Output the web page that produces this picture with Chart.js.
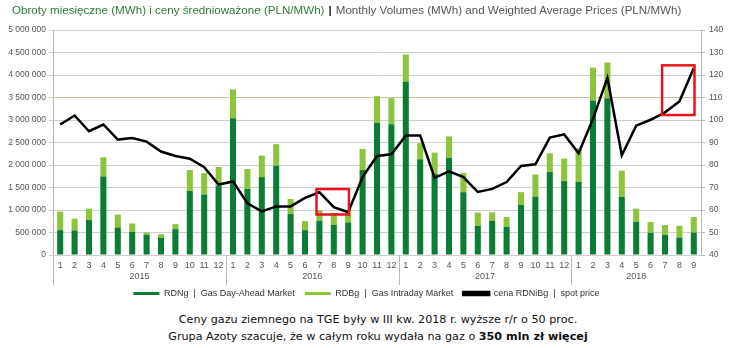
<!DOCTYPE html>
<html>
<head>
<meta charset="utf-8">
<script src="https://cdn.jsdelivr.net/npm/chart.js@4"></script>
<style>
  body { margin: 0; background: #fff; }
  #wrap { position: relative; width: 733px; height: 348px; overflow: hidden; }
  #title { position: absolute; left: 12px; top: 3px; font: 11.6px "Liberation Sans", Arial, sans-serif; white-space: nowrap; }
  #title .pl { color: #2d7a3a; }
  #title .sep { color: #222; font-weight: bold; padding: 0 4px; }
  #title .en { color: #555; }
  #note { position: absolute; left: 0; width: 756px; top: 311px; text-align: center; font: 11.2px "DejaVu Sans", Verdana, sans-serif; line-height: 17px; color: #111; }
  canvas { position: absolute; left: 0; top: 0; }
</style>
</head>
<body>
<div id="wrap">
  <canvas id="myChart" width="733" height="308"></canvas>
  <div id="title"><span class="pl">Obroty miesięczne (MWh) i ceny średnioważone (PLN/MWh)</span><span class="sep">|</span><span class="en">Monthly Volumes (MWh) and Weighted Average Prices (PLN/MWh)</span></div>
  <div id="note">Ceny gazu ziemnego na TGE były w III kw. 2018 r. wyższe r/r o 50 proc.<br>Grupa Azoty szacuje, że w całym roku wydała na gaz o <b>350 mln zł więcej</b></div>
</div>
<script>
'use strict';

// months 2015-01 .. 2018-09
let months = [
  '1','2','3','4','5','6','7','8','9','10','11','12',
  '1','2','3','4','5','6','7','8','9','10','11','12',
  '1','2','3','4','5','6','7','8','9','10','11','12',
  '1','2','3','4','5','6','7','8','9'
];
let years = ['2015', '2016', '2017', '2018'];
let monthsPerYear = [12, 12, 12, 9];

// RDNg - day-ahead market volume (MWh)
let rdng = [
  552000, 545000, 776000, 1746000, 612000, 515000, 448000, 381000, 575000, 1425000, 1343000, 1530000,
  3037000, 1470000, 1731000, 1985000, 910000, 552000, 761000, 672000, 724000, 1888000, 2933000, 2903000,
  3858000, 2127000, 1806000, 2157000, 1396000, 649000, 761000, 627000, 1112000, 1299000, 1843000, 1642000,
  1627000, 3433000, 3485000, 1291000, 739000, 493000, 448000, 388000, 500000
];
// RDBg - intraday market volume (MWh)
let rdbg = [
  411000, 261000, 254000, 426000, 284000, 186000, 52000, 82000, 112000, 463000, 478000, 425000,
  642000, 440000, 478000, 478000, 336000, 202000, 231000, 261000, 283000, 470000, 597000, 582000,
  597000, 358000, 470000, 477000, 425000, 291000, 187000, 216000, 284000, 492000, 418000, 500000,
  739000, 731000, 791000, 582000, 291000, 238000, 216000, 261000, 343000
];
// cena RDNiBg - spot price (PLN/MWh)
let price = [
  98, 102, 95, 98, 91.3, 92, 90.4, 86, 84, 82.8, 79, 71.3,
  72.7, 63, 59.4, 61.6, 61.6, 65.4, 67.9, 61.3, 59, 74.6, 84, 84.8,
  93.1, 93.1, 74.3, 77.2, 74.6, 68, 69.4, 72.4, 79.6, 80.3, 92.2, 93.6,
  85.2, 100.5, 118.7, 84.3, 97.5, 100.1, 103.4, 108.2, 123.1
];

// highlighted periods: [first index, last index, price low, price high]
let highlights = [
  [18, 20, 58, 69.3],
  [42, 44, 102.2, 124.3]
];

const darkGreen = '#0a7c35';
const lightGreen = '#8cc43c';

// groups the month labels by year and draws the separators
const yearPlugin = {
  id: 'years',
  afterDraw(chart) {
    let ctx = chart.ctx;
    let x = chart.scales.x;
    let area = chart.chartArea;
    ctx.save();
    ctx.strokeStyle = '#b8b8b8';
    ctx.lineWidth = 1;
    ctx.fillStyle = '#555';
    ctx.font = '9px "Liberation Sans", Arial, sans-serif';
    ctx.textAlign = 'center';
    ctx.textBaseline = 'middle';
    let start = 0;
    for (let i = 0; i < years.length; i++) {
      let end = start + monthsPerYear[i];
      let left = x.getPixelForValue(start - 0.5);
      let right = x.getPixelForValue(end - 0.5);
      ctx.fillText(years[i], (left + right) / 2, area.bottom + 22);
      if (i > 0) {
        ctx.beginPath();
        ctx.moveTo(Math.round(left) + 0.5, area.bottom);
        ctx.lineTo(Math.round(left) + 0.5, area.bottom + 30);
        ctx.stroke();
      }
      start = end;
    }
    // left axis runs down through the labels too
    ctx.beginPath();
    ctx.moveTo(Math.round(area.left) + 0.5, area.bottom);
    ctx.lineTo(Math.round(area.left) + 0.5, area.bottom + 30);
    ctx.stroke();

    // red boxes
    let y1 = chart.scales.y1;
    ctx.strokeStyle = '#e8141c';
    ctx.lineWidth = 2.5;
    for (let h of highlights) {
      let l = x.getPixelForValue(h[0] - 0.2);
      let r = x.getPixelForValue(h[1] + 0.05);
      let t = y1.getPixelForValue(h[3]);
      let b = y1.getPixelForValue(h[2]);
      ctx.strokeRect(l, t, r - l, b - t);
    }
    ctx.restore();
  }
};

function spaced(v) {
  return String(v).replace(/\B(?=(\d{3})+(?!\d))/g, ' ');
}

const ctx = document.getElementById('myChart');

new Chart(ctx, {
  type: 'bar',
  data: {
    labels: months,
    datasets: [
      {
        label: 'RDNg  |  Gas Day-Ahead Market',
        data: rdng,
        backgroundColor: darkGreen,
        yAxisID: 'y',
        stack: 'vol',
        order: 2,
        categoryPercentage: 1,
        barPercentage: 0.42
      },
      {
        label: 'RDBg  |  Gas Intraday Market',
        data: rdbg,
        backgroundColor: lightGreen,
        yAxisID: 'y',
        stack: 'vol',
        order: 2,
        categoryPercentage: 1,
        barPercentage: 0.42
      },
      {
        type: 'line',
        label: 'cena RDNiBg  |  spot price',
        data: price,
        yAxisID: 'y1',
        borderColor: '#000',
        backgroundColor: '#000',
        borderWidth: 2.5,
        pointRadius: 0,
        tension: 0,
        order: 0
      }
    ]
  },
  options: {
    responsive: false,
    animation: false,
    layout: { padding: { top: 30, left: 0, right: 0, bottom: 0 } },
    plugins: {
      tooltip: { enabled: false },
      legend: {
        position: 'bottom',
        labels: {
          boxWidth: 26,
          boxHeight: 3,
          padding: 10,
          color: '#333',
          font: { family: '"Liberation Sans", Arial, sans-serif', size: 9 },
          sort: (a, b) => a.datasetIndex - b.datasetIndex
        }
      }
    },
    scales: {
      x: {
        stacked: true,
        offset: true,
        grid: { display: false, drawTicks: false },
        border: { display: false },
        ticks: {
          autoSkip: false,
          maxRotation: 0,
          padding: 5,
          color: '#555',
          font: { family: '"Liberation Sans", Arial, sans-serif', size: 9 }
        },
        afterFit(scale) { scale.height = 24; }
      },
      y: {
        stacked: true,
        position: 'left',
        min: 0,
        max: 5000000,
        border: { color: '#b8b8b8' },
        grid: {
          color: (c) => c.tick && c.tick.value === 3500000 ? '#cfc39a' : '#cfcfcf',
          tickLength: 4
        },
        ticks: {
          stepSize: 500000,
          padding: 3,
          color: '#555',
          font: { family: '"Liberation Sans", Arial, sans-serif', size: 8.5 },
          callback: (v) => spaced(v)
        },
        afterFit(scale) { scale.width = 53; }
      },
      y1: {
        position: 'right',
        min: 40,
        max: 140,
        border: { color: '#b8b8b8' },
        grid: { drawOnChartArea: false, color: '#b8b8b8', tickLength: 4 },
        ticks: {
          stepSize: 10,
          padding: 4,
          color: '#555',
          font: { family: '"Liberation Sans", Arial, sans-serif', size: 8.5 }
        },
        afterFit(scale) { scale.width = 32; }
      }
    }
  },
  plugins: [yearPlugin]
});
</script>
</body>
</html>
